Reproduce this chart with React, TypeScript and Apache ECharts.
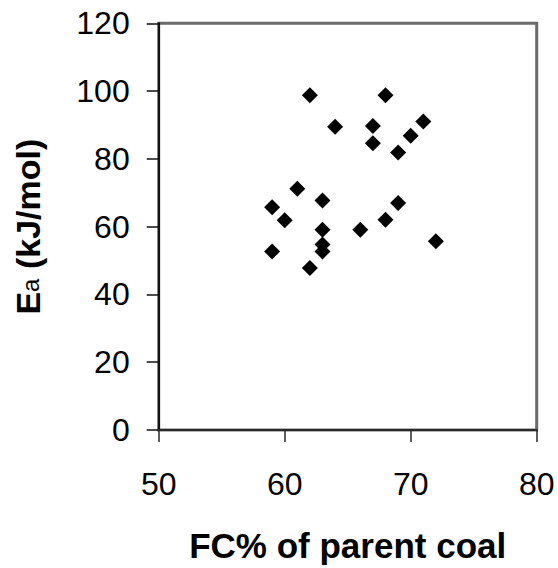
import React, { useEffect, useRef } from "react";
import * as echarts from "echarts";

const fcPercent: number[] = [62, 68, 64, 67, 67, 71, 70, 69, 61, 63, 59, 60, 69, 68, 63, 66, 63, 63, 59, 72, 62];
const activationEnergy: number[] = [98.8, 98.8, 89.5, 89.7, 84.6, 91.0, 86.8, 81.9, 71.2, 67.7, 65.7, 61.9, 67.0, 62.0, 59.1, 59.1, 54.7, 52.7, 52.7, 55.7, 47.8];

const xTicks = { min: 50, max: 80, interval: 10 };
const yTicks = { min: 0, max: 120, interval: 20 };

const xName = "FC% of parent coal";

export default function App() {
  const ref = useRef<HTMLDivElement>(null);
  useEffect(() => {
    if (!ref.current) return;
    const chart = echarts.init(ref.current, undefined, { renderer: "svg" });
    const font = "'Liberation Sans', Arial, sans-serif";
    const points = fcPercent.map((x, i) => [x, activationEnergy[i]]);
    chart.setOption({
      animation: false,
      textStyle: { fontFamily: font },
      grid: {
        show: true,
        left: 158.7,
        right: 21.3,
        top: 23.3,
        bottom: 136.3,
        borderColor: "#6a6a6a",
        borderWidth: 3,
        backgroundColor: "rgba(0,0,0,0)",
      },
      xAxis: {
        type: "value",
        min: xTicks.min,
        max: xTicks.max,
        interval: xTicks.interval,
        name: xName,
        nameLocation: "middle",
        nameGap: 98,
        nameTextStyle: { fontSize: 35, fontWeight: "bold", color: "#000", fontFamily: font },
        axisLine: { show: true, onZero: false, lineStyle: { color: "#2a2a2a", width: 2 } },
        axisTick: { show: true, length: 12, inside: false, lineStyle: { color: "#2a2a2a", width: 1.5 } },
        axisLabel: { fontSize: 32, color: "#000", margin: 38, fontFamily: font },
        splitLine: { show: false },
      },
      yAxis: {
        type: "value",
        min: yTicks.min,
        max: yTicks.max,
        interval: yTicks.interval,
        name: "{b|E}{s|a}{b| (kJ/mol)}",
        nameLocation: "middle",
        nameGap: 114,
        nameRotate: 90,
        nameTextStyle: {
          fontSize: 34,
          fontWeight: "bold",
          color: "#000",
          fontFamily: font,
          rich: {
            b: { fontSize: 34, fontWeight: "bold", color: "#000", fontFamily: font, verticalAlign: "bottom", lineHeight: 40 },
            s: { fontSize: 24, fontWeight: "normal", color: "#000", fontFamily: font, verticalAlign: "bottom", lineHeight: 40, padding: [0, 0, 2, 0] },
          },
        },
        axisLine: { show: true, onZero: false, lineStyle: { color: "#111", width: 2 } },
        axisTick: { show: true, length: 12, inside: false, lineStyle: { color: "#111", width: 1.5 } },
        axisLabel: { fontSize: 32, color: "#000", margin: 29, fontFamily: font },
        splitLine: { show: false },
      },
      series: [
        {
          type: "scatter",
          data: points,
          symbol: "diamond",
          symbolSize: 16,
          itemStyle: { color: "#000", opacity: 1 },
        },
      ],
    });
    return () => chart.dispose();
  }, []);
  return (
    <div
      ref={ref}
      style={{ position: "fixed", left: 0, top: 0, width: 558, height: 568, background: "#fff" }}
    />
  );
}
